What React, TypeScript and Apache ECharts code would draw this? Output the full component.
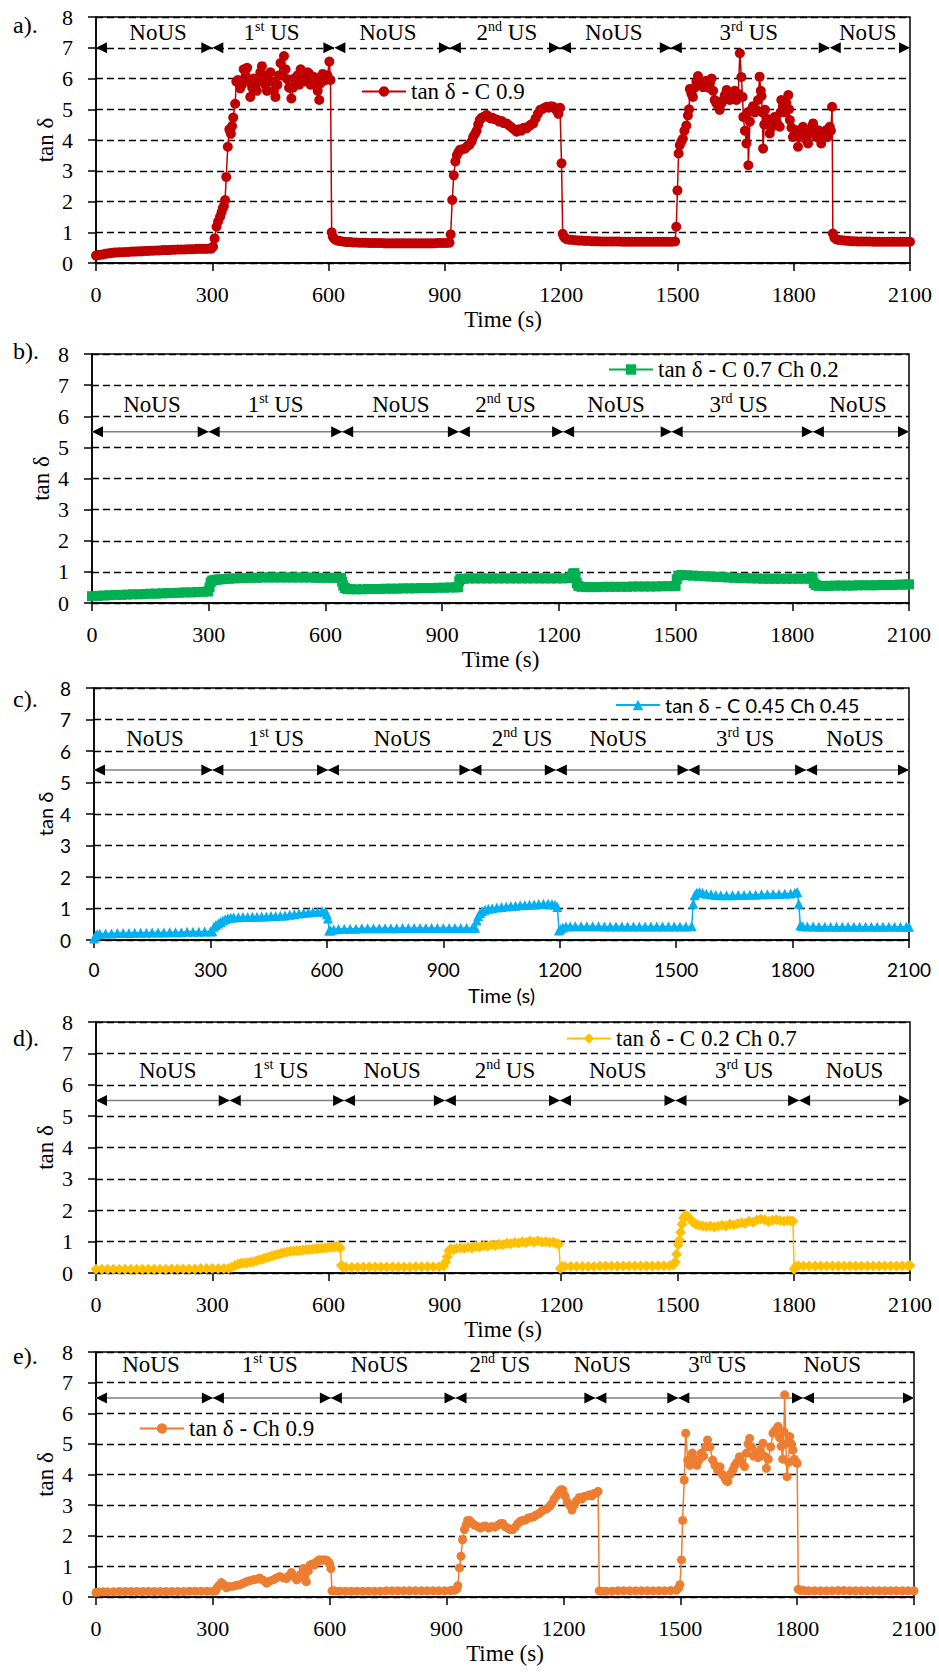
import React, { useEffect, useRef } from "react";
import * as echarts from "echarts";

// ---------------- DATA ----------------
const X_TICKS_MAX = 2100;
const Y_MAX = 8;
const segmentLabels = ["NoUS", "1st US", "NoUS", "2nd US", "NoUS", "3rd US", "NoUS"];

// segment boundaries (s)
const segA = [0, 300, 615, 913, 1197, 1483, 1893, 2100];
const segB = [0, 300, 643, 943, 1211, 1490, 1853, 2100];
const segC = [0, 305, 603, 970, 1190, 1532, 1835, 2100];
const segD = [0, 345, 640, 900, 1197, 1495, 1814, 2100];
const segE = [0, 300, 603, 923, 1282, 1495, 1815, 2100];

// label centres (s)
const labelXA = [160, 453, 753, 1060, 1336, 1684, 1991];
const labelXB = [154, 472, 794, 1063, 1347, 1662, 1969];
const labelXC = [157, 469, 795, 1103, 1351, 1678, 1961];
const labelXD = [185, 476, 764, 1055, 1346, 1672, 1957];
const labelXE = [141, 446, 728, 1037, 1300, 1595, 1890];

const nameA = "tan δ - C 0.9";
const nameB = "tan δ - C 0.7 Ch 0.2";
const nameC = "tan δ - C 0.45 Ch 0.45";
const nameD = "tan δ - C 0.2 Ch 0.7";
const nameE = "tan δ - Ch 0.9";

const seriesA = [
[0,0.24],[6,0.26],[12,0.27],[18,0.28],[24,0.3],[30,0.31],[36,0.32],[42,0.33],[48,0.34],[54,0.34],[60,0.35],[68,0.35],[76,0.36],[84,0.36],[92,0.37],[100,0.37],[108,0.38],[116,0.38],[124,0.39],[132,0.39],[140,0.4],[148,0.4],[156,0.41],[164,0.41],[172,0.42],[180,0.42],[188,0.42],[196,0.43],[204,0.43],[212,0.44],[220,0.44],[228,0.44],[236,0.45],[244,0.45],[252,0.45],[260,0.46],[268,0.46],[276,0.46],[284,0.46],[292,0.47],[298,0.47],
[302,0.53],[306,0.8],[311,1.18],[315,1.35],[320,1.5],[324,1.65],[327,1.78],[330,1.85],[333,2.05],[336,2.8],[340,3.78],[344,4.35],[346,4.3],[348,4.2],[351,4.45],[354,4.73],[359,5.18],[362,5.9],[366,5.95],[372,5.68],[376,5.8],[381,6.3],[386,6.1],[390,6.35],[394,5.9],[398,5.4],[403,5.7],[407,6.0],[411,5.8],[415,5.6],[420,5.9],[424,6.2],[428,6.4],[432,6.1],[437,5.8],[441,5.6],[446,5.9],[450,6.2],[455,5.9],[459,5.6],[463,5.4],[468,5.8],[472,6.1],[476,6.5],[480,6.1],[485,6.73],[489,6.3],[493,5.98],[498,5.7],[504,5.35],[508,5.7],[511,6.0],[516,5.9],[520,6.1],[524,5.8],[528,6.3],[532,6.1],[537,5.95],[541,5.9],[546,6.2],[550,6.15],[554,5.8],[559,6.0],[563,6.05],[568,5.9],[572,5.6],[576,5.3],[580,5.85],[585,6.15],[589,6.0],[593,5.95],[597,6.1],[602,6.55],[605,5.95],
[608,1.0],[611,0.85],[615,0.78],[620,0.74],[626,0.72],[632,0.71],[640,0.69],[648,0.68],[656,0.68],[664,0.67],[672,0.67],[680,0.66],[688,0.66],[696,0.66],[704,0.65],[712,0.65],[720,0.65],[728,0.65],[736,0.65],[744,0.64],[752,0.64],[760,0.64],[768,0.64],[776,0.64],[784,0.64],[792,0.64],[800,0.64],[808,0.64],[816,0.64],[824,0.64],[832,0.64],[840,0.64],[848,0.64],[856,0.64],[864,0.64],[872,0.64],[880,0.65],[888,0.65],[896,0.65],[904,0.65],[912,0.66],
[915,0.93],[919,2.05],[923,2.85],[927,3.3],[931,3.5],[935,3.6],[939,3.68],[945,3.7],[952,3.72],[958,3.8],[964,3.85],[969,3.95],[973,4.1],[978,4.2],[982,4.3],[986,4.5],[990,4.65],[995,4.72],[1000,4.75],[1004,4.78],[1008,4.81],[1013,4.75],[1018,4.7],[1023,4.72],[1028,4.68],[1034,4.66],[1040,4.6],[1046,4.62],[1052,4.55],[1059,4.54],[1065,4.48],[1071,4.42],[1078,4.35],[1085,4.27],[1091,4.35],[1097,4.3],[1104,4.4],[1111,4.38],[1117,4.45],[1122,4.5],[1128,4.54],[1134,4.7],[1140,4.85],[1146,4.98],[1151,5.0],[1157,5.05],[1163,5.08],[1168,5.05],[1174,5.1],[1180,5.08],[1185,5.02],[1189,4.95],[1193,4.85],[1197,5.05],
[1201,3.24],[1204,0.95],[1207,0.85],[1211,0.8],[1216,0.77],[1222,0.76],[1230,0.75],[1238,0.74],[1246,0.73],[1254,0.73],[1262,0.72],[1270,0.72],[1278,0.71],[1286,0.71],[1294,0.71],[1302,0.7],[1310,0.7],[1318,0.7],[1326,0.7],[1334,0.7],[1342,0.7],[1350,0.7],[1358,0.69],[1366,0.69],[1374,0.69],[1382,0.69],[1390,0.69],[1398,0.69],[1406,0.69],[1414,0.69],[1422,0.69],[1430,0.69],[1438,0.69],[1446,0.69],[1454,0.69],[1462,0.69],[1470,0.69],[1478,0.69],[1486,0.69],[1494,0.7],
[1497,1.18],[1500,2.36],[1503,3.56],[1506,3.83],[1510,3.95],[1514,4.04],[1518,4.3],[1523,4.47],[1527,4.8],[1530,5.0],[1532,5.66],[1536,5.5],[1540,5.4],[1544,5.7],[1549,5.9],[1553,6.08],[1557,5.95],[1562,5.8],[1566,5.72],[1570,5.85],[1575,5.93],[1580,5.7],[1584,5.85],[1588,6.0],[1592,5.6],[1596,5.3],[1600,5.2],[1605,5.1],[1609,4.98],[1614,5.2],[1618,5.3],[1622,5.45],[1627,5.63],[1631,5.5],[1635,5.3],[1640,5.4],[1644,5.5],[1648,5.6],[1652,5.3],[1657,5.5],[1661,6.82],[1665,6.05],[1668,5.4],[1670,4.75],[1674,4.3],[1678,3.89],[1681,4.9],[1683,3.18],[1687,4.6],[1691,4.98],[1695,5.1],[1700,4.9],[1704,4.98],[1708,5.3],[1712,6.06],[1715,5.6],[1717,5.43],[1719,4.9],[1721,3.72],[1724,4.5],[1726,4.98],[1730,4.7],[1734,4.5],[1738,4.21],[1742,4.4],[1746,4.6],[1751,4.75],[1755,4.6],[1759,4.5],[1764,4.43],[1766,4.9],[1768,5.3],[1772,5.1],[1777,4.9],[1781,5.2],[1786,5.46],[1788,5.0],[1790,4.65],[1794,4.4],[1798,4.1],[1803,4.25],[1807,4.32],[1811,3.78],[1815,4.1],[1820,4.3],[1824,4.43],[1828,4.2],[1833,4.0],[1837,3.89],[1841,4.2],[1846,4.4],[1850,4.54],[1854,4.3],[1859,4.1],[1863,4.32],[1867,4.1],[1871,3.89],[1876,4.1],[1880,4.2],[1884,4.32],[1888,4.1],[1893,4.43],[1896,4.3],[1899,5.08],
[1901,0.96],[1905,0.82],[1910,0.77],[1916,0.75],[1924,0.74],[1932,0.73],[1940,0.72],[1948,0.71],[1956,0.71],[1964,0.7],[1972,0.7],[1980,0.7],[1988,0.7],[1996,0.7],[2004,0.69],[2012,0.69],[2020,0.69],[2028,0.69],[2036,0.69],[2044,0.69],[2052,0.69],[2060,0.69],[2068,0.69],[2076,0.69],[2084,0.69],[2092,0.69],[2100,0.69]
];

const seriesB = [
[0,0.22],[15,0.23],[30,0.24],[45,0.25],[60,0.26],[75,0.26],[90,0.27],[105,0.28],[120,0.28],[135,0.29],[150,0.3],[165,0.3],[180,0.31],[195,0.32],[210,0.32],[225,0.33],[240,0.34],[255,0.34],[270,0.35],[285,0.36],[298,0.37],
[302,0.5],[305,0.66],[309,0.72],[315,0.74],[322,0.75],[330,0.76],[340,0.77],[352,0.78],[365,0.79],[380,0.8],[395,0.8],[410,0.81],[425,0.81],[440,0.82],[455,0.82],[470,0.82],[485,0.82],[500,0.82],[515,0.82],[530,0.82],[545,0.82],[560,0.82],[575,0.81],[590,0.81],[605,0.81],[620,0.81],[635,0.81],[640,0.8],
[643,0.68],[646,0.56],[650,0.48],[656,0.45],[665,0.44],[680,0.44],[695,0.44],[710,0.45],[725,0.45],[740,0.45],[755,0.46],[770,0.46],[785,0.46],[800,0.47],[815,0.47],[830,0.47],[845,0.48],[860,0.48],[875,0.48],[890,0.49],[905,0.49],[920,0.5],[935,0.5],[941,0.51],
[944,0.7],[947,0.77],[955,0.78],[970,0.79],[985,0.79],[1000,0.79],[1015,0.79],[1030,0.79],[1045,0.79],[1060,0.79],[1075,0.79],[1090,0.79],[1105,0.79],[1120,0.79],[1135,0.79],[1150,0.79],[1165,0.79],[1180,0.79],[1195,0.79],[1210,0.79],[1225,0.8],[1232,0.83],[1236,0.94],[1240,0.96],[1243,0.84],
[1246,0.64],[1250,0.55],[1258,0.52],[1270,0.51],[1285,0.51],[1300,0.51],[1315,0.52],[1330,0.52],[1345,0.52],[1360,0.52],[1375,0.52],[1390,0.53],[1405,0.53],[1420,0.53],[1435,0.53],[1450,0.53],[1465,0.54],[1480,0.54],[1495,0.54],[1500,0.55],
[1503,0.76],[1507,0.88],[1515,0.9],[1530,0.89],[1545,0.88],[1560,0.87],[1575,0.86],[1590,0.85],[1605,0.84],[1620,0.83],[1635,0.82],[1650,0.81],[1665,0.8],[1680,0.8],[1695,0.79],[1710,0.79],[1725,0.78],[1740,0.78],[1755,0.78],[1770,0.78],[1785,0.78],[1800,0.78],[1815,0.78],[1830,0.78],[1845,0.79],[1852,0.83],
[1855,0.64],[1860,0.58],[1868,0.55],[1880,0.55],[1895,0.55],[1910,0.56],[1925,0.56],[1940,0.56],[1955,0.56],[1970,0.57],[1985,0.57],[2000,0.57],[2015,0.57],[2030,0.58],[2045,0.58],[2060,0.58],[2075,0.59],[2090,0.59],[2100,0.6]
];

const seriesC = [
[0,0.05],[4,0.14],[8,0.18],[15,0.2],[30,0.21],[45,0.21],[60,0.22],[75,0.22],[90,0.22],[105,0.23],[120,0.23],[135,0.23],[150,0.24],[165,0.24],[180,0.24],[195,0.25],[210,0.25],[225,0.25],[240,0.26],[255,0.26],[270,0.26],[285,0.27],[300,0.27],[305,0.28],
[309,0.42],[314,0.48],[320,0.52],[326,0.57],[332,0.62],[338,0.66],[345,0.69],[352,0.71],[360,0.72],[372,0.72],[384,0.73],[396,0.73],[408,0.74],[420,0.74],[432,0.75],[444,0.75],[456,0.76],[468,0.76],[480,0.77],[492,0.78],[504,0.8],[516,0.82],[528,0.84],[540,0.86],[552,0.87],[564,0.89],[576,0.9],[588,0.91],[596,0.9],[600,0.82],[603,0.68],
[606,0.3],[610,0.3],[618,0.33],[630,0.35],[645,0.36],[660,0.36],[675,0.36],[690,0.37],[705,0.37],[720,0.37],[735,0.37],[750,0.37],[765,0.37],[780,0.37],[795,0.38],[810,0.38],[825,0.38],[840,0.38],[855,0.38],[870,0.38],[885,0.38],[900,0.38],[915,0.38],[930,0.38],[945,0.38],[960,0.38],[975,0.38],[982,0.39],
[986,0.62],[990,0.76],[995,0.85],[1000,0.91],[1008,0.96],[1016,0.99],[1026,1.01],[1038,1.03],[1050,1.05],[1062,1.06],[1074,1.08],[1086,1.09],[1098,1.1],[1110,1.11],[1122,1.12],[1134,1.13],[1146,1.14],[1158,1.15],[1170,1.15],[1180,1.14],[1188,1.12],[1194,1.05],
[1198,0.3],[1202,0.35],[1208,0.4],[1216,0.43],[1227,0.44],[1240,0.44],[1255,0.44],[1270,0.44],[1285,0.44],[1300,0.44],[1315,0.43],[1330,0.43],[1345,0.43],[1360,0.43],[1375,0.43],[1390,0.43],[1405,0.43],[1420,0.43],[1435,0.43],[1450,0.43],[1465,0.43],[1480,0.43],[1495,0.43],[1510,0.43],[1525,0.43],[1540,0.44],
[1544,1.15],[1548,1.42],[1553,1.5],[1560,1.52],[1568,1.5],[1578,1.47],[1590,1.45],[1602,1.43],[1615,1.42],[1630,1.42],[1645,1.42],[1660,1.43],[1675,1.43],[1690,1.44],[1705,1.44],[1720,1.45],[1735,1.45],[1750,1.46],[1765,1.46],[1780,1.47],[1795,1.48],[1806,1.5],[1812,1.52],
[1816,1.15],[1820,0.46],[1826,0.44],[1838,0.43],[1853,0.43],[1868,0.42],[1883,0.42],[1898,0.42],[1913,0.42],[1928,0.42],[1943,0.42],[1958,0.42],[1973,0.42],[1988,0.42],[2003,0.42],[2018,0.42],[2033,0.42],[2048,0.42],[2063,0.42],[2078,0.42],[2093,0.42],[2100,0.42]
];

const seriesD = [
[0,0.12],[15,0.12],[30,0.12],[45,0.12],[60,0.12],[75,0.12],[90,0.12],[105,0.12],[120,0.12],[135,0.12],[150,0.12],[165,0.12],[180,0.12],[195,0.13],[210,0.13],[225,0.13],[240,0.13],[255,0.13],[270,0.14],[285,0.14],[300,0.14],[315,0.14],[330,0.14],[342,0.14],
[350,0.18],[358,0.24],[366,0.28],[374,0.31],[382,0.32],[390,0.33],[398,0.34],[406,0.36],[414,0.39],[422,0.42],[430,0.45],[438,0.48],[446,0.51],[454,0.54],[462,0.57],[470,0.6],[478,0.63],[486,0.65],[494,0.67],[502,0.69],[510,0.7],[518,0.71],[526,0.72],[534,0.73],[542,0.74],[550,0.75],[558,0.76],[566,0.77],[574,0.78],[582,0.79],[590,0.8],[598,0.81],[606,0.82],[614,0.83],[620,0.85],[626,0.85],[630,0.8],
[633,0.25],[637,0.19],[645,0.18],[660,0.18],[675,0.18],[690,0.19],[705,0.19],[720,0.19],[735,0.19],[750,0.19],[765,0.19],[780,0.19],[795,0.19],[810,0.19],[825,0.2],[840,0.2],[855,0.2],[870,0.2],[885,0.2],[897,0.22],
[902,0.35],[906,0.52],[910,0.7],[915,0.77],[922,0.74],[930,0.78],[940,0.8],[950,0.78],[960,0.82],[970,0.8],[980,0.85],[990,0.83],[1000,0.87],[1010,0.85],[1020,0.9],[1030,0.88],[1040,0.92],[1050,0.9],[1060,0.95],[1070,0.93],[1080,0.97],[1090,0.95],[1100,1.0],[1110,0.97],[1120,1.02],[1130,0.98],[1140,1.03],[1150,0.99],[1160,1.0],[1170,0.97],[1180,0.98],[1188,0.94],[1194,0.92],
[1198,0.14],[1202,0.2],[1210,0.21],[1225,0.21],[1240,0.21],[1255,0.21],[1270,0.21],[1285,0.21],[1300,0.22],[1315,0.22],[1330,0.22],[1345,0.22],[1360,0.22],[1375,0.22],[1390,0.22],[1405,0.22],[1420,0.22],[1435,0.22],[1450,0.23],[1465,0.23],[1480,0.23],[1490,0.26],
[1494,0.35],[1498,0.6],[1502,0.9],[1505,1.05],[1508,1.3],[1512,1.55],[1516,1.75],[1521,1.85],[1527,1.8],[1533,1.72],[1540,1.62],[1548,1.55],[1556,1.52],[1565,1.5],[1575,1.48],[1585,1.5],[1595,1.47],[1605,1.5],[1615,1.52],[1625,1.5],[1635,1.55],[1645,1.53],[1655,1.57],[1665,1.6],[1675,1.58],[1685,1.65],[1695,1.62],[1705,1.68],[1715,1.72],[1725,1.7],[1735,1.64],[1745,1.68],[1755,1.7],[1765,1.67],[1775,1.65],[1785,1.67],[1793,1.66],[1798,1.65],
[1801,0.12],[1805,0.2],[1812,0.22],[1825,0.22],[1840,0.22],[1855,0.22],[1870,0.22],[1885,0.22],[1900,0.22],[1915,0.22],[1930,0.22],[1945,0.22],[1960,0.22],[1975,0.22],[1990,0.22],[2005,0.22],[2020,0.22],[2035,0.22],[2050,0.22],[2065,0.22],[2080,0.22],[2095,0.23],[2100,0.24]
];

const seriesE = [
[0,0.15],[8,0.16],[18,0.17],[30,0.17],[45,0.17],[60,0.18],[75,0.18],[90,0.18],[105,0.18],[120,0.18],[135,0.18],[150,0.18],[165,0.18],[180,0.18],[195,0.18],[210,0.18],[225,0.18],[240,0.19],[255,0.19],[270,0.19],[285,0.19],[300,0.19],[307,0.2],
[311,0.3],[316,0.38],[322,0.47],[328,0.4],[335,0.3],[342,0.34],[352,0.35],[360,0.38],[369,0.4],[378,0.45],[386,0.5],[394,0.53],[403,0.56],[411,0.58],[420,0.62],[429,0.55],[438,0.45],[446,0.52],[455,0.56],[463,0.62],[472,0.67],[480,0.63],[489,0.6],[496,0.7],[502,0.8],[508,0.68],[515,0.56],[520,0.6],[526,0.75],[532,0.93],[536,0.7],[540,0.5],[545,0.85],[549,1.04],[555,1.08],[561,1.05],[566,1.15],[570,1.18],[574,1.22],[580,1.2],[586,1.22],[592,1.2],[597,1.15],[600,1.08],[603,0.93],
[606,0.2],[612,0.2],[625,0.19],[640,0.19],[655,0.19],[670,0.19],[685,0.19],[700,0.19],[715,0.19],[730,0.19],[745,0.2],[760,0.2],[775,0.2],[790,0.2],[805,0.2],[820,0.2],[835,0.2],[850,0.2],[865,0.2],[880,0.2],[895,0.2],[910,0.21],[920,0.22],[926,0.26],
[929,0.37],[933,0.95],[937,1.33],[941,1.87],[946,2.2],[950,2.35],[954,2.5],[959,2.5],[965,2.42],[972,2.35],[980,2.3],[987,2.25],[993,2.3],[1000,2.32],[1008,2.25],[1016,2.3],[1024,2.28],[1032,2.35],[1039,2.4],[1044,2.4],[1050,2.3],[1057,2.25],[1064,2.2],[1070,2.2],[1076,2.28],[1083,2.4],[1090,2.48],[1096,2.5],[1103,2.52],[1110,2.58],[1117,2.6],[1124,2.62],[1130,2.68],[1137,2.72],[1144,2.8],[1150,2.85],[1157,2.88],[1164,2.95],[1170,3.05],[1176,3.2],[1182,3.3],[1188,3.42],[1193,3.5],[1198,3.5],[1204,3.3],[1210,3.1],[1216,3.0],[1222,2.84],[1228,3.0],[1234,3.15],[1241,3.25],[1247,3.2],[1253,3.28],[1260,3.3],[1267,3.34],[1273,3.3],[1279,3.38],[1285,3.4],[1289,3.45],
[1292,0.2],[1298,0.19],[1310,0.19],[1325,0.19],[1340,0.2],[1355,0.2],[1370,0.2],[1385,0.2],[1400,0.2],[1415,0.2],[1430,0.2],[1445,0.2],[1460,0.2],[1475,0.21],[1490,0.22],[1496,0.3],
[1499,0.4],[1503,1.21],[1506,2.5],[1510,3.82],[1514,5.35],[1519,4.47],[1524,4.3],[1531,4.7],[1538,4.5],[1543,4.3],[1548,4.47],[1554,4.7],[1560,4.6],[1565,4.9],[1570,5.13],[1576,4.9],[1583,4.47],[1589,4.3],[1596,4.15],[1602,4.25],[1608,4.0],[1614,3.9],[1618,3.8],[1622,3.77],[1628,4.0],[1635,4.15],[1640,4.3],[1646,4.4],[1652,4.58],[1658,4.4],[1665,4.26],[1670,4.7],[1674,5.0],[1678,5.18],[1683,4.9],[1688,4.6],[1695,4.7],[1700,4.55],[1705,4.8],[1712,5.02],[1716,4.6],[1721,4.2],[1726,4.5],[1732,4.9],[1738,5.35],[1744,5.45],[1751,5.57],[1755,5.2],[1759,4.92],[1763,4.5],[1766,5.4],[1768,6.6],[1771,5.0],[1774,3.93],[1778,4.4],[1781,5.24],[1785,5.0],[1789,4.8],[1793,4.5],[1797,4.4],[1800,4.36],
[1803,0.25],[1808,0.22],[1818,0.21],[1830,0.2],[1845,0.2],[1860,0.2],[1875,0.2],[1890,0.2],[1905,0.21],[1920,0.21],[1935,0.2],[1950,0.2],[1965,0.2],[1980,0.2],[1995,0.2],[2010,0.2],[2025,0.2],[2040,0.2],[2055,0.2],[2070,0.2],[2085,0.2],[2100,0.2]
];

// arrow level and label level (tan δ units) per panel
const arrowLevels = [7, 5.5, 5.4, 5.5, 6.5];
const labelLevels = [7.5, 6.37, 6.4, 6.46, 7.58];

// ---------------- STYLE / LAYOUT ----------------
const SERIF = "Liberation Serif";
const SANS = "Lato";

const panels = [
  { tag: "a).", tagTop: 13, grid: { left: 96, right: 29, top: 17, height: 246 }, data: seriesA, name: nameA, color: "#C00000", symbol: "circle", size: 10, segs: segA, labelX: labelXA, arrowLine: false, legend: { left: 361, top: 80 }, font: SERIF, tickSize: 22, textSize: 23 },
  { tag: "b).", tagTop: 339, grid: { left: 92, right: 30, top: 354, height: 249 }, data: seriesB, name: nameB, color: "#00B050", symbol: "rect", size: 10, segs: segB, labelX: labelXB, arrowLine: true, legend: { left: 608, top: 358 }, font: SERIF, tickSize: 22, textSize: 23 },
  { tag: "c).", tagTop: 687, grid: { left: 94, right: 30, top: 688, height: 252 }, data: seriesC, name: nameC, color: "#00B0F0", symbol: "triangle", size: 10, segs: segC, labelX: labelXC, arrowLine: true, legend: { left: 615, top: 695 }, font: SANS, tickSize: 19, textSize: 20 },
  { tag: "d).", tagTop: 1026, grid: { left: 96, right: 29, top: 1022, height: 251 }, data: seriesD, name: nameD, color: "#FFC000", symbol: "diamond", size: 11, segs: segD, labelX: labelXD, arrowLine: true, legend: { left: 566, top: 1027 }, font: SERIF, tickSize: 22, textSize: 23 },
  { tag: "e).", tagTop: 1344, grid: { left: 96, right: 24, top: 1352, height: 245 }, data: seriesE, name: nameE, color: "#ED7D31", symbol: "circle", size: 9, segs: segE, labelX: labelXE, arrowLine: true, legend: { left: 139, top: 1417 }, font: SERIF, tickSize: 22, textSize: 23 },
];

function toRich(label: string) {
  const m = label.match(/^(\d)(st|nd|rd) (.*)$/);
  if (m) return `{n|${m[1]}}{s|${m[2]}}{n| ${m[3]}}`;
  return `{n|${label}}`;
}

function buildOption() {
  const grid: any[] = [];
  const xAxis: any[] = [];
  const yAxis: any[] = [];
  const series: any[] = [];
  const legend: any[] = [];
  const graphic: any[] = [];

  panels.forEach((p, i) => {
    const txt = { color: "#000", fontFamily: p.font, fontWeight: "normal" as const };
    grid.push({ ...p.grid, show: true, borderColor: "#000", borderWidth: 1.5, backgroundColor: "transparent" });
    xAxis.push({
      gridIndex: i, type: "value", min: 0, max: X_TICKS_MAX, interval: 300,
      axisLine: { show: true, onZero: false, lineStyle: { color: "#000", width: 1.5 } },
      axisTick: { show: true, length: 8, lineStyle: { color: "#000", width: 1.5 } },
      axisLabel: { ...txt, margin: 20, fontSize: p.tickSize, formatter: (v: number) => String(v) },
      splitLine: { show: false },
      name: "Time (s)", nameLocation: "middle", nameGap: 45, nameMoveOverlap: false,
      nameTextStyle: { ...txt, fontSize: p.textSize },
    });
    yAxis.push({
      gridIndex: i, type: "value", min: 0, max: Y_MAX, interval: 1,
      axisLine: { show: true, lineStyle: { color: "#000", width: 1.5 } },
      axisTick: { show: true, length: 8, lineStyle: { color: "#000", width: 1.5 } },
      axisLabel: { ...txt, margin: 23, fontSize: p.tickSize, formatter: (v: number) => String(v) },
      splitLine: { show: true, lineStyle: { color: "#000", width: 1.3, type: [7, 4] } },
      name: "tan δ", nameLocation: "middle", nameGap: 39, nameMoveOverlap: false,
      nameTextStyle: { ...txt, fontSize: p.textSize },
    });

    // arrows
    const arrowData: number[][] = [];
    for (let k = 0; k < p.segs.length - 1; k++) arrowData.push([p.segs[k], p.segs[k + 1], arrowLevels[i]]);
    const drawLine = p.arrowLine;
    series.push({
      type: "custom", xAxisIndex: i, yAxisIndex: i, silent: true, z: 1,
      data: arrowData, encode: { x: [0, 1], y: 2 },
      renderItem: (params: any, api: any) => {
        const p1 = api.coord([api.value(0), api.value(2)]);
        const p2 = api.coord([api.value(1), api.value(2)]);
        const L = 11, H = 5.5;
        const children: any[] = [];
        if (drawLine) children.push({ type: "line", shape: { x1: p1[0], y1: p1[1], x2: p2[0], y2: p2[1] }, style: { stroke: "#7f7f7f", lineWidth: 1.5 } });
        children.push({ type: "polygon", shape: { points: [[p1[0], p1[1]], [p1[0] + L, p1[1] - H], [p1[0] + L, p1[1] + H]] }, style: { fill: "#000" } });
        children.push({ type: "polygon", shape: { points: [[p2[0], p2[1]], [p2[0] - L, p2[1] - H], [p2[0] - L, p2[1] + H]] }, style: { fill: "#000" } });
        return { type: "group", children };
      },
    });

    // segment labels
    const labData = p.labelX.map((x) => [x, labelLevels[i]]);
    series.push({
      type: "custom", xAxisIndex: i, yAxisIndex: i, silent: true, z: 2,
      data: labData,
      renderItem: (params: any, api: any) => {
        const pt = api.coord([api.value(0), api.value(1)]);
        return {
          type: "text", x: pt[0], y: pt[1],
          style: {
            text: toRich(segmentLabels[params.dataIndex]),
            align: "center", verticalAlign: "middle", fill: "#000",
            rich: {
              n: { fontFamily: SERIF, fontSize: 23, fill: "#000", lineHeight: 26 },
              s: { fontFamily: SERIF, fontSize: 14, fill: "#000", lineHeight: 15, verticalAlign: "top" },
            },
          },
        };
      },
    });

    // data
    series.push({
      type: "line", name: p.name, xAxisIndex: i, yAxisIndex: i, z: 3,
      data: p.data, symbol: p.symbol, symbolSize: p.size, showSymbol: true,
      color: p.color, lineStyle: { color: p.color, width: 1.5 },
      itemStyle: { color: p.color }, emphasis: { disabled: true }, silent: true,
    });

    legend.push({
      data: [p.name], left: p.legend.left, top: p.legend.top, padding: 0,
      itemWidth: 44, itemHeight: 13, selectedMode: false,
      textStyle: { ...txt, fontSize: p.textSize },
    });

    graphic.push({ type: "text", left: 13, top: p.tagTop, style: { text: p.tag, fill: "#000", fontFamily: SERIF, fontSize: 24 } });
  });

  return { animation: false, backgroundColor: "#fff", textStyle: { fontFamily: SERIF }, grid, xAxis, yAxis, series, legend, graphic };
}

export default function App() {
  const ref = useRef<HTMLDivElement>(null);
  useEffect(() => {
    if (!ref.current) return;
    const chart = echarts.init(ref.current, undefined, { renderer: "svg" });
    chart.setOption(buildOption() as any);
    return () => chart.dispose();
  }, []);
  return <div ref={ref} style={{ position: "absolute", left: 0, top: 0, width: 939, height: 1673, background: "#fff" }} />;
}
